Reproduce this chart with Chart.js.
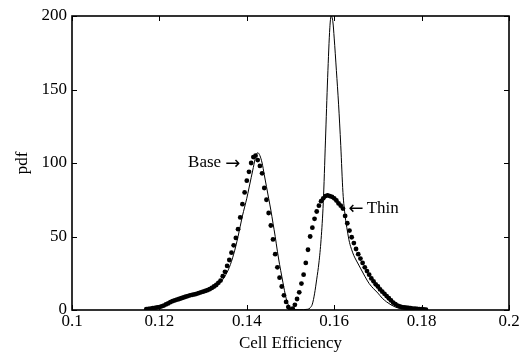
<!DOCTYPE html>
<html>
<head>
<meta charset="utf-8">
<script src="https://cdn.jsdelivr.net/npm/chart.js@4/dist/chart.umd.min.js"></script>
<style>
  html, body { margin: 0; padding: 0; background: #fff; }
  #wrap { width: 526px; height: 354px; }
</style>
</head>
<body>
<div id="wrap"><canvas id="myChart" width="526" height="354"></canvas></div>
<script>
// tick labels
var xTicks = [0.1, 0.12, 0.14, 0.16, 0.18, 0.2];
var yTicks = [0, 50, 100, 150, 200];

// dotted series (markers)
var dotX = [
  0.1170, 0.1175, 0.1180, 0.1185, 0.1190, 0.1195, 0.1200, 0.1205, 0.1210, 0.1215,
  0.1220, 0.1225, 0.1230, 0.1235, 0.1240, 0.1245, 0.1250, 0.1255, 0.1260, 0.1265,
  0.1270, 0.1275, 0.1280, 0.1285, 0.1290, 0.1295, 0.1300, 0.1305, 0.1310, 0.1315,
  0.1320, 0.1325, 0.1330, 0.1335, 0.1340, 0.1345, 0.1350, 0.1355, 0.1360, 0.1365,
  0.1370, 0.1375, 0.1380, 0.1385, 0.1390, 0.1395, 0.1400, 0.1405, 0.1410, 0.1415,
  0.1420, 0.1425, 0.1430, 0.1435, 0.1440, 0.1445, 0.1450, 0.1455, 0.1460, 0.1465,
  0.1470, 0.1475, 0.1480, 0.1485, 0.1490, 0.1495, 0.1500, 0.1505, 0.1510, 0.1515,
  0.1520, 0.1525, 0.1530, 0.1535, 0.1540, 0.1545, 0.1550, 0.1555, 0.1560, 0.1565,
  0.1570, 0.1575, 0.1580, 0.1585, 0.1590, 0.1595, 0.1600, 0.1605, 0.1610, 0.1615,
  0.1620, 0.1625, 0.1630, 0.1635, 0.1640, 0.1645, 0.1650, 0.1655, 0.1660, 0.1665,
  0.1670, 0.1675, 0.1680, 0.1685, 0.1690, 0.1695, 0.1700, 0.1705, 0.1710, 0.1715,
  0.1720, 0.1725, 0.1730, 0.1735, 0.1740, 0.1745, 0.1750, 0.1755, 0.1760, 0.1765,
  0.1770, 0.1775, 0.1780, 0.1785, 0.1790, 0.1795, 0.1800, 0.1805, 0.1810
];
var dotY = [
  0.5, 0.8, 1.0, 1.3, 1.5, 1.8, 2.0, 2.5, 3.0, 3.8,
  4.5, 5.3, 6.0, 6.5, 7.0, 7.5, 8.0, 8.5, 9.0, 9.5,
  10.0, 10.3, 10.6, 11.0, 11.5, 12.0, 12.5, 13.0, 13.5, 14.2,
  15.0, 16.0, 17.0, 18.5, 20.0, 23.0, 26.0, 30.0, 34.0, 39.0,
  44.0, 49.0, 55.0, 63.0, 72.0, 80.0, 88.0, 94.0, 100.0, 104.0,
  105.0, 102.0, 98.0, 93.0, 83.0, 75.0, 66.0, 57.5, 48.0, 38.0,
  29.0, 22.0, 16.0, 10.0, 5.5, 2.0, 0.3, 1.0, 3.5, 7.5,
  12.0, 18.0, 24.0, 32.0, 41.0, 50.0, 56.0, 62.0, 67.0, 71.0,
  74.0, 76.0, 77.5, 78.0, 77.5, 77.0, 76.0, 74.5, 72.5, 71.0,
  69.0, 64.0, 59.0, 54.0, 49.5, 45.5, 41.5, 38.0, 35.0, 32.0,
  29.0, 26.5, 24.0, 21.5, 19.5, 17.5, 16.0, 14.0, 12.5, 11.0,
  9.5, 8.0, 6.5, 5.0, 4.0, 3.0, 2.5, 2.0, 1.8, 1.6,
  1.4, 1.2, 1.0, 0.9, 0.8, 0.6, 0.5, 0.4, 0.3
];

// solid series (thin line)
var lineX = [
  0.1170, 0.1200, 0.1250, 0.1290, 0.1300, 0.1320, 0.1340, 0.1350, 0.1360, 0.1370,
  0.1380, 0.1385, 0.1390, 0.1395, 0.1400, 0.1405, 0.1410, 0.1415, 0.1420, 0.1425,
  0.1430, 0.1435, 0.1440, 0.1445, 0.1450, 0.1455, 0.1460, 0.1465, 0.1470, 0.1475,
  0.1480, 0.1485, 0.1490, 0.1495, 0.1500, 0.1505, 0.1520, 0.1540, 0.1545, 0.1550,
  0.1555, 0.1560, 0.1565, 0.1570, 0.1575, 0.1580, 0.1585, 0.1590, 0.1593, 0.1597,
  0.1600, 0.1605, 0.1610, 0.1615, 0.1620, 0.1625, 0.1630, 0.1635, 0.1640, 0.1645,
  0.1650, 0.1660, 0.1670, 0.1680, 0.1690, 0.1700, 0.1710, 0.1720, 0.1730, 0.1740,
  0.1750, 0.1760, 0.1780
];
var lineY = [
  0.3, 2.0, 8.0, 11.5, 12.3, 14.5, 19.0, 23.0, 29.0, 38.0,
  50.0, 57.0, 64.0, 70.0, 76.0, 83.0, 90.0, 97.0, 104.0, 107.0,
  105.0, 100.0, 92.0, 84.0, 76.0, 68.0, 59.0, 50.0, 40.0, 31.0,
  23.0, 15.0, 8.0, 3.5, 1.0, 0.3, 0.2, 0.5, 1.5, 4.0,
  11.0, 21.0, 32.0, 48.0, 73.0, 115.0, 158.0, 192.0, 200.0, 196.0,
  185.0, 163.0, 140.0, 112.0, 80.0, 64.0, 54.0, 46.0, 41.0, 37.0,
  34.0, 28.5, 23.0, 18.0, 14.5, 11.5, 8.0, 5.5, 3.5, 2.0,
  1.0, 0.5, 0.2
];

// text labels pointing at the humps
var baseLabel = { text: 'Base', arrow: '\u2192', x: 0.1385, y: 100 };
var thinLabel = { text: 'Thin', arrow: '\u2190', x: 0.1633, y: 69 };

var serif = '"Liberation Serif", "Times New Roman", "DejaVu Serif", serif';
var arrowFont = '18px "DejaVu Sans", sans-serif';

function toPoints(xs, ys) {
  var pts = [];
  for (var i = 0; i < xs.length; i++) {
    pts.push({ x: xs[i], y: ys[i] });
  }
  return pts;
}

// box, inward ticks and the two labels
var framePlugin = {
  id: 'frame',
  afterDatasetsDraw: function(chart) {
    var ctx = chart.ctx;
    var a = chart.chartArea;
    var xs = chart.scales.x;
    var ys = chart.scales.y;
    ctx.save();
    ctx.strokeStyle = '#000';
    ctx.lineWidth = 1;
    ctx.beginPath();
    xTicks.forEach(function(v) {
      var p = Math.round(xs.getPixelForValue(v)) + 0.5;
      ctx.moveTo(p, a.bottom); ctx.lineTo(p, a.bottom - 5);
      ctx.moveTo(p, a.top); ctx.lineTo(p, a.top + 5);
    });
    yTicks.forEach(function(v) {
      var p = Math.round(ys.getPixelForValue(v)) + 0.5;
      ctx.moveTo(a.left, p); ctx.lineTo(a.left + 5, p);
      ctx.moveTo(a.right, p); ctx.lineTo(a.right - 5, p);
    });
    ctx.stroke();
    ctx.lineWidth = 1.6;
    ctx.strokeRect(a.left, a.top, a.right - a.left, a.bottom - a.top);

    ctx.fillStyle = '#000';
    ctx.textBaseline = 'middle';

    // Base ->
    var bx = xs.getPixelForValue(baseLabel.x);
    var by = ys.getPixelForValue(baseLabel.y);
    ctx.font = arrowFont;
    ctx.textAlign = 'right';
    ctx.fillText(baseLabel.arrow, bx, by + 1);
    var aw = ctx.measureText(baseLabel.arrow).width;
    ctx.font = '17px ' + serif;
    ctx.fillText(baseLabel.text, bx - aw - 4, by);

    // <- Thin
    var tx = xs.getPixelForValue(thinLabel.x);
    var ty = ys.getPixelForValue(thinLabel.y);
    ctx.font = arrowFont;
    ctx.textAlign = 'left';
    ctx.fillText(thinLabel.arrow, tx, ty + 1);
    aw = ctx.measureText(thinLabel.arrow).width;
    ctx.font = '17px ' + serif;
    ctx.fillText(thinLabel.text, tx + aw + 3, ty);
    ctx.restore();
  }
};

var ctx = document.getElementById('myChart').getContext('2d');
var myChart = new Chart(ctx, {
  type: 'scatter',
  data: {
    datasets: [
      {
        label: 'dotted',
        data: toPoints(dotX, dotY),
        showLine: false,
        pointRadius: 2.4,
        pointBorderWidth: 0,
        pointBackgroundColor: '#000',
        pointHoverRadius: 2.4
      },
      {
        label: 'solid',
        data: toPoints(lineX, lineY),
        showLine: true,
        pointRadius: 0,
        borderColor: '#000',
        borderWidth: 1,
        cubicInterpolationMode: 'monotone',
        fill: false
      }
    ]
  },
  options: {
    responsive: false,
    animation: false,
    events: [],
    layout: { padding: { top: 16, right: 17, left: 0, bottom: 0 } },
    plugins: {
      legend: { display: false },
      tooltip: { enabled: false }
    },
    scales: {
      x: {
        type: 'linear',
        min: 0.1,
        max: 0.2,
        grid: { display: false, drawTicks: false },
        border: { display: false },
        afterBuildTicks: function(scale) {
          scale.ticks = xTicks.map(function(v) { return { value: v }; });
        },
        afterFit: function(scale) { scale.height = 44; },
        ticks: {
          color: '#000',
          padding: 1,
          maxRotation: 0,
          autoSkip: false,
          font: { family: serif, size: 17 },
          callback: function(v) { return String(+(+v).toFixed(2)); }
        },
        title: {
          display: true,
          text: 'Cell Efficiency',
          color: '#000',
          font: { family: serif, size: 17 },
          padding: { top: 0, bottom: 0 }
        }
      },
      y: {
        type: 'linear',
        min: 0,
        max: 200,
        grid: { display: false, drawTicks: false },
        border: { display: false },
        afterBuildTicks: function(scale) {
          scale.ticks = yTicks.map(function(v) { return { value: v }; });
        },
        afterFit: function(scale) { scale.width = 72; },
        ticks: {
          color: '#000',
          padding: 5,
          autoSkip: false,
          font: { family: serif, size: 17 }
        },
        title: {
          display: true,
          text: 'pdf',
          color: '#000',
          font: { family: serif, size: 17 },
          padding: { top: 12, bottom: 0 }
        }
      }
    }
  },
  plugins: [framePlugin]
});
</script>
</body>
</html>
